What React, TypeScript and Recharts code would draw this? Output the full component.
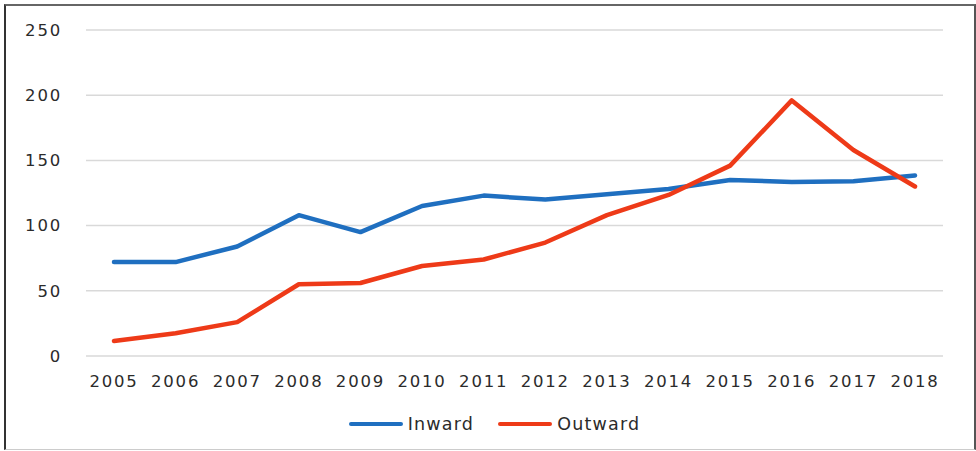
import { LineChart, Line, XAxis, YAxis, CartesianGrid, Legend } from 'recharts'

const years = ['2005', '2006', '2007', '2008', '2009', '2010', '2011', '2012', '2013', '2014', '2015', '2016', '2017', '2018']
const inward = [72, 72, 84, 108, 95, 115, 123, 120, 124, 128, 135, 133.5, 134, 138.5]
const outward = [11.5, 17.5, 26, 55, 56, 69, 74, 87, 108, 123.5, 146, 196, 158, 130]
const yTicks = [0, 50, 100, 150, 200, 250]

const series = [
  { key: 'Inward', color: '#1F6FC0' },
  { key: 'Outward', color: '#EE3A18' },
]

const data = years.map((y, i) => ({ year: y, Inward: inward[i], Outward: outward[i] }))

const font = 'DejaVu Sans, sans-serif'
const tickStyle = { fontSize: 16.5, fill: '#2b2b2b', fontFamily: font, letterSpacing: 1.8 }

function LegendBox() {
  return (
    <div style={{ display: 'flex', justifyContent: 'center', alignItems: 'center', height: 30, paddingLeft: 13, fontFamily: font, fontSize: 17.5, color: '#2b2b2b', letterSpacing: 1.2 }}>
      {series.map((s, i) => (
        <div key={s.key} style={{ display: 'flex', alignItems: 'center', marginLeft: i ? 24 : 0 }}>
          <span style={{ width: 54, height: 4, borderRadius: 2, background: s.color, marginRight: 5 }} />
          <span>{s.key}</span>
        </div>
      ))}
    </div>
  )
}

export default function App() {
  return (
    <div style={{ position: 'absolute', left: 0, top: 0, width: 976, height: 451, background: '#fff' }}>
      <div style={{ position: 'absolute', left: 4, top: 4, width: 968, height: 443, borderLeft: '2px solid #333', borderTop: '2px solid #666', borderRight: '2px solid #555', borderBottom: '1px solid #ccc' }} />
      <div style={{ position: 'absolute', left: 0, top: 0 }}>
        <LineChart width={976} height={451} data={data} margin={{ top: 30, right: 33, bottom: 12, left: 0 }}>
          <CartesianGrid vertical={false} stroke="#d9d9d9" strokeWidth={1.5} />
          <XAxis dataKey="year" axisLine={false} tickLine={false} tickSize={0} tickMargin={19} height={53} padding={{ left: 28, right: 28 }} tick={tickStyle} interval={0} />
          <YAxis domain={[0, 250]} ticks={yTicks} axisLine={false} tickLine={false} tickSize={0} tickMargin={24} width={86} tick={tickStyle} />
          <Legend verticalAlign="bottom" height={30} wrapperStyle={{ left: 0, width: 976 }} content={() => <LegendBox />} />
          {series.map((s) => (
            <Line key={s.key} type="linear" dataKey={s.key} stroke={s.color} strokeWidth={4.5} strokeLinecap="round" strokeLinejoin="round" dot={false} isAnimationActive={false} />
          ))}
        </LineChart>
      </div>
    </div>
  )
}
